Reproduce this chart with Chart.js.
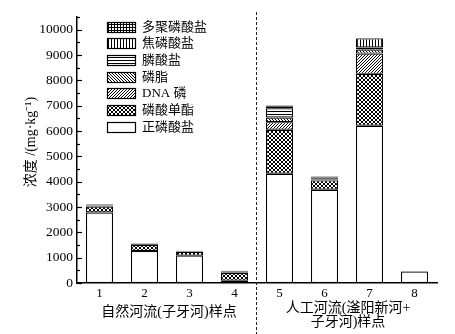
<!DOCTYPE html>
<html><head><meta charset="utf-8">
<script src="https://cdn.jsdelivr.net/npm/chart.js@4"></script>
<style>html,body{margin:0;padding:0;background:#fff}</style>
</head><body>
<canvas id="c" width="455" height="334"></canvas>
<script>
const categories = ['1','2','3','4','5','6','7','8'];
const seriesNames = ['正磷酸盐','磷酸单酯','DNA 磷','磷脂','膦酸盐','焦磷酸盐','多聚磷酸盐'];
const orthophosphate = [2780, 1265, 1080, 90, 4310, 3680, 6205, 450];
const monoester      = [240, 235, 150, 300, 1740, 370, 2050, 0];
const dnaP           = [30, 30, 20, 20, 300, 40, 800, 0];
const phospholipid   = [20, 15, 10, 20, 185, 30, 160, 0];
const phosphonate    = [20, 15, 10, 20, 365, 40, 80, 0];
const pyrophosphate  = [20, 10, 5, 20, 80, 20, 360, 10];
const polyphosphate  = [10, 10, 2, 10, 30, 20, 15, 10];
const groupLabels = [['自然河流(子牙河)样点'], ['人工河流(滏阳新河+', '子牙河)样点']];
const yTitle = '浓度 /(mg·kg⁻¹)';

const FONT = "'Liberation Serif','Noto Sans CJK SC',serif";

function makePattern(kind){
  const s = (kind==='cross') ? 4 : 3;
  const c = document.createElement('canvas'); c.width = s; c.height = s;
  const g = c.getContext('2d');
  g.fillStyle = '#fff'; g.fillRect(0,0,s,s);
  g.fillStyle = '#000';
  if (kind==='white') return '#ffffff';
  if (kind==='h' || kind==='grid') g.fillRect(0,0,s,1);
  if (kind==='v' || kind==='grid') g.fillRect(0,0,1,s);
  if (kind==='fslash') for (let i=0;i<s;i++) g.fillRect(i, s-1-i, 1, 1);
  if (kind==='bslash') for (let i=0;i<s;i++) g.fillRect(i, i, 1, 1);
  if (kind==='cross') { for (let i=0;i<s;i++){ g.fillRect(i,i,1,1); g.fillRect(i,s-1-i,1,1);} }
  return g.createPattern(c, 'repeat');
}

const seriesData = [orthophosphate, monoester, dnaP, phospholipid, phosphonate, pyrophosphate, polyphosphate];
const patternKinds = ['white','cross','fslash','bslash','h','v','grid'];

const datasets = seriesNames.map((name, i) => ({
  label: name,
  data: seriesData[i],
  backgroundColor: makePattern(patternKinds[i]),
  borderColor: '#000',
  borderWidth: 1.2,
  borderSkipped: false,
  categoryPercentage: 1,
  barPercentage: 0.6
}));

const decorPlugin = {
  id: 'decor',
  afterDraw(chart){
    const ctx = chart.ctx, ca = chart.chartArea;
    const xs = chart.scales.x, ys = chart.scales.y;
    ctx.save();
    // inward ticks on y axis
    ctx.strokeStyle = '#000'; ctx.lineWidth = 1.2;
    for (let v = 0; v <= ys.max; v += 500){
      const y = Math.round(ys.getPixelForValue(v)) + 0.5;
      const len = (v % 1000 === 0) ? 5 : 3;
      ctx.beginPath(); ctx.moveTo(ca.left, y); ctx.lineTo(ca.left + len, y); ctx.stroke();
    }
    // dashed separator
    const sepX = Math.round((xs.getPixelForValue(3) + xs.getPixelForValue(4)) / 2) - 0.5;
    ctx.setLineDash([3,2]); ctx.lineWidth = 1; ctx.strokeStyle = '#222';
    ctx.beginPath(); ctx.moveTo(sepX, 12); ctx.lineTo(sepX, chart.height); ctx.stroke();
    ctx.setLineDash([]);
    // y axis title
    ctx.fillStyle = '#000'; ctx.font = '14px ' + FONT;
    ctx.textAlign = 'center'; ctx.textBaseline = 'middle';
    ctx.save();
    ctx.translate(31, 142); ctx.rotate(-Math.PI / 2);
    ctx.fillText(yTitle, 0, 0);
    ctx.restore();
    // group labels
    const c1 = (xs.getPixelForValue(0) + xs.getPixelForValue(3)) / 2 + 2;
    const c2 = (xs.getPixelForValue(4) + xs.getPixelForValue(7)) / 2 + 1;
    ctx.fillText(groupLabels[0][0], c1, 312);
    ctx.fillText(groupLabels[1][0], c2, 308);
    ctx.fillText(groupLabels[1][1], c2, 322);
    // legend
    const n = chart.data.datasets.length;
    const bx = ca.left + 30, bw = 29, bh = 11, step = 16.7;
    ctx.textAlign = 'left'; ctx.font = '13px ' + FONT;
    for (let k = 0; k < n; k++){
      const ds = chart.data.datasets[n - 1 - k];
      const by = Math.round(ca.top + 4.5 + k * step);
      ctx.fillStyle = ds.backgroundColor;
      ctx.fillRect(bx, by, bw, bh);
      ctx.strokeStyle = '#000'; ctx.lineWidth = 1.2;
      ctx.strokeRect(bx + 0.5, by + 0.5, bw - 1, bh - 1);
      ctx.fillStyle = '#000';
      ctx.fillText(ds.label, bx + 35, by + bh / 2 + 0.5);
    }
    ctx.restore();
  }
};

new Chart(document.getElementById('c'), {
  type: 'bar',
  data: { labels: categories, datasets },
  options: {
    responsive: false,
    animation: false,
    layout: { padding: { top: 17, right: 18, left: 0, bottom: 0 } },
    plugins: { legend: { display: false }, tooltip: { enabled: false } },
    scales: {
      x: {
        stacked: true,
        grid: { display: false, drawTicks: false },
        border: { display: true, color: '#000', width: 1.5 },
        ticks: { color: '#000', font: { family: FONT, size: 13 }, padding: 3 },
        afterFit: s => { s.height = 51; }
      },
      y: {
        stacked: true,
        min: 0, max: 10500,
        grid: { display: false, drawTicks: false },
        border: { display: true, color: '#000', width: 1.5 },
        ticks: {
          stepSize: 500, maxTicksLimit: 40, autoSkip: false,
          color: '#000', font: { family: FONT, size: 13.5 }, padding: 4,
          callback: v => (v % 1000 === 0 ? String(v) : '')
        },
        title: { display: false },
        afterFit: s => { s.width = 77; }
      }
    }
  },
  plugins: [decorPlugin]
});
</script>
</body></html>
